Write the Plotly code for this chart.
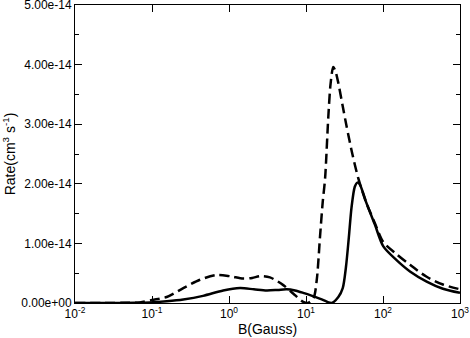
import plotly.graph_objects as go

# B field (Gauss) and rates (units of 1e-14 cm^3 s^-1)
b_solid = [0.01, 0.03, 0.06, 0.094, 0.155, 0.255, 0.46, 0.84, 1.39, 2.1, 3.09, 4.3,
           5.6, 7.2, 9.2, 12, 16, 21.5, 26.3, 30, 33, 36, 39, 43, 46.4, 50, 60,
           78.7, 101, 150, 224, 369, 600, 1000]
rate_solid = [0.0, 0.0, 0.003, 0.01, 0.03, 0.06, 0.12, 0.21, 0.25, 0.23, 0.21, 0.22,
              0.23, 0.21, 0.17, 0.12, 0.06, 0.0, 0.1, 0.25, 0.6, 1.1, 1.6, 1.95, 2.02, 1.99, 1.70,
              1.31, 0.95, 0.72, 0.53, 0.36, 0.24, 0.17]

b_dash = [0.01, 0.04, 0.07, 0.1, 0.155, 0.255, 0.42, 0.69, 1.03, 1.53, 2.0, 2.53,
          3.4, 5.07, 6.8, 9.2, 10.5, 12.5, 13.8, 15.2, 16.5, 17.7, 19.5, 20.9, 22.6,
          24, 26.3, 30, 33.7, 40, 47.8, 60, 79, 101, 150, 224, 369, 600, 1000]
rate_dash = [0.0, 0.003, 0.01, 0.05, 0.1, 0.25, 0.39, 0.47, 0.45, 0.41, 0.42, 0.45,
             0.43, 0.30, 0.16, 0.02, 0.0, 0.08, 0.39, 1.11, 1.7, 2.09, 3.13, 3.69, 3.96,
             3.9, 3.69, 3.3, 2.96, 2.5, 2.09, 1.7, 1.33, 1.02, 0.82, 0.64, 0.44, 0.31, 0.23]

xtick_vals = [0.01, 0.1, 1, 10, 100, 1000]
xtick_text = ["10<sup>-2</sup>", "10<sup>-1</sup>", "10<sup>0</sup>",
              "10<sup>1</sup>", "10<sup>2</sup>", "10<sup>3</sup>"]
ytick_vals = [0, 1e-14, 2e-14, 3e-14, 4e-14, 5e-14]
ytick_text = ["0.00e+00", "1.00e-14", "2.00e-14", "3.00e-14", "4.00e-14", "5.00e-14"]

fig = go.Figure()
fig.add_trace(go.Scatter(x=b_solid, y=[r * 1e-14 for r in rate_solid], mode="lines",
                         line=dict(color="black", width=2.5, shape="spline", smoothing=0.8)))
fig.add_trace(go.Scatter(x=b_dash, y=[r * 1e-14 for r in rate_dash], mode="lines",
                         line=dict(color="black", width=2.5, dash="10px,5px",
                                   shape="spline", smoothing=0.8)))

font = dict(family="Liberation Sans, Arial, sans-serif", size=12, color="black")
fig.update_layout(
    width=470, height=338,
    margin=dict(l=75, r=10, t=5, b=35),
    paper_bgcolor="white", plot_bgcolor="white",
    showlegend=False, font=font,
    xaxis=dict(type="log", range=[-2, 3], tickvals=xtick_vals, ticktext=xtick_text,
               ticks="inside", ticklen=7, tickcolor="black", mirror="ticks",
               showline=True, linecolor="black", linewidth=1, showgrid=False,
               zeroline=False, automargin=False, ticklabeloverflow="allow",
               tickfont=dict(size=12),
               title=dict(text="B(Gauss)", standoff=2)),
    yaxis=dict(range=[0, 5e-14], tickvals=ytick_vals, ticktext=ytick_text,
               ticks="inside", ticklen=7, tickcolor="black", mirror="ticks",
               minor=dict(ticks="inside", ticklen=4, tickcolor="black", dtick=5e-15),
               showline=True, linecolor="black", linewidth=1, showgrid=False,
               zeroline=False, automargin=False, ticklabeloverflow="allow",
               title=dict(text="Rate(cm<sup>3</sup> s<sup>-1</sup>)", standoff=2)),
)

# drop the default page margin so the figure sits at the window's corner
fig.write_html("out.html", config={"displayModeBar": False},
               post_script="document.body.style.margin='0';")
